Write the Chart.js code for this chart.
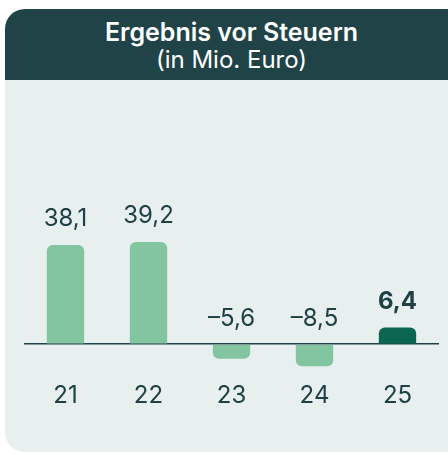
<!DOCTYPE html>
<html>
<head>
<meta charset="utf-8">
<script src="https://cdn.jsdelivr.net/npm/chart.js@4"></script>
<style>
  html, body { margin: 0; padding: 0; background: #ffffff; overflow: hidden; }
  #wrap { position: relative; width: 448px; height: 455px; }
  #card {
    position: absolute; left: 5px; top: 9px; width: 470px; height: 443px;
    background: #e7f0ef; border-radius: 20px; overflow: hidden;
  }
  #head {
    height: 71px; background: #1f4346; color: #ffffff; text-align: center;
    font-family: Inter, sans-serif; padding-right: 17px; box-sizing: border-box;
  }
  #head .t1 { font-weight: 600; font-size: 25px; padding-top: 9px; line-height: 28px; }
  #head .t2 { font-weight: 400; font-size: 24px; line-height: 28px; }
  #c { position: absolute; left: 0; top: 0; }
</style>
</head>
<body>
<div id="wrap">
  <div id="card">
    <div id="head">
      <div class="t1">Ergebnis vor Steuern</div>
      <div class="t2">(in Mio. Euro)</div>
    </div>
  </div>
  <canvas id="c" width="448" height="455"></canvas>
</div>
<script>
var years = ['21', '22', '23', '24', '25'];
var values = [38.1, 39.2, -5.6, -8.5, 6.4];
var labels = ['38,1', '39,2', '–5,6', '–8,5', '6,4'];

var textColor = '#1f4044';
var lightBar = '#83c4a1';
var darkBar = '#0a6651';

var valueLabels = {
  id: 'valueLabels',
  afterDatasetsDraw: function (chart) {
    var ctx = chart.ctx;
    var meta = chart.getDatasetMeta(0);
    ctx.save();
    ctx.textAlign = 'center';
    ctx.textBaseline = 'alphabetic';
    meta.data.forEach(function (bar, i) {
      var last = i === values.length - 1;
      ctx.font = (last ? '700 ' : '400 ') + '24px Inter, sans-serif';
      ctx.fillStyle = textColor;
      var top = values[i] >= 0 ? bar.y : bar.base;
      ctx.fillText(labels[i], bar.x, top - 19);
    });
    ctx.restore();
  }
};

var ctx = document.getElementById('c').getContext('2d');
var myChart = new Chart(ctx, {
  type: 'bar',
  data: {
    labels: years,
    datasets: [{
      data: values,
      backgroundColor: values.map(function (v, i) { return i === values.length - 1 ? darkBar : lightBar; }),
      borderRadius: 6,
      borderSkipped: 'start',
      categoryPercentage: 1,
      barPercentage: 0.45
    }]
  },
  options: {
    responsive: false,
    animation: false,
    layout: { padding: { left: 24, right: 9, top: 227, bottom: 34 } },
    plugins: { legend: { display: false }, tooltip: { enabled: false } },
    scales: {
      x: {
        grid: { display: false, drawTicks: false },
        border: { display: false },
        ticks: { color: textColor, padding: 11, font: { family: 'Inter', size: 24 } }
      },
      y: {
        min: -10,
        max: 45,
        z: 1,
        ticks: { display: false, stepSize: 5 },
        border: { display: false },
        grid: {
          drawTicks: false,
          lineWidth: 1.5,
          color: function (c) { return c.tick && c.tick.value === 0 ? textColor : 'rgba(0,0,0,0)'; }
        }
      }
    }
  },
  plugins: [valueLabels]
});
</script>
</body>
</html>
